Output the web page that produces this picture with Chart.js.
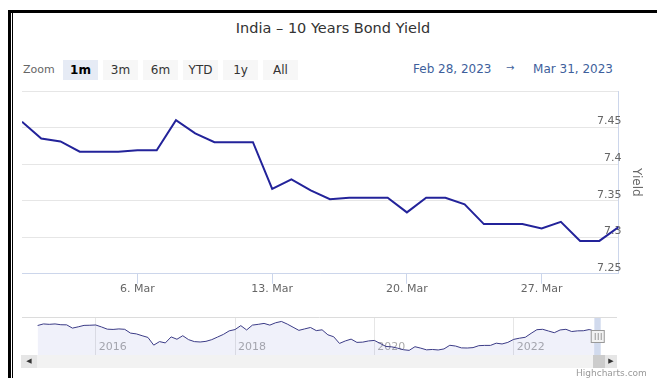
<!DOCTYPE html>
<html>
<head>
<meta charset="utf-8">
<script src="https://cdn.jsdelivr.net/npm/chart.js@4"></script>
<style>
  body { margin: 0; width: 657px; height: 378px; background: #fff; overflow: hidden;
         font-family: "DejaVu Sans", sans-serif; position: relative; }
  .abs { position: absolute; }
  .btn { position: absolute; top: 60px; width: 35px; height: 20px; line-height: 20px; text-align: center;
         background: #f7f7f7; color: #333; font-size: 12px; }
  .btn.sel { background: #e6ebf5; color: #000; font-weight: bold; }
</style>
</head>
<body>
<!-- frame -->
<div class="abs" style="left:8px;top:10px;width:649px;height:3px;background:#000"></div>
<div class="abs" style="left:8px;top:10px;width:3px;height:368px;background:#000"></div>
<div class="abs" style="left:12px;top:13px;width:1px;height:365px;background:#000"></div>

<div class="abs" style="left:0;top:20px;width:666px;text-align:center;font-size:14.5px;color:#333">India – 10 Years Bond Yield</div>

<div class="abs" style="left:23px;top:63px;font-size:11px;color:#666">Zoom</div>
<div class="btn sel" style="left:63px">1m</div>
<div class="btn" style="left:103px">3m</div>
<div class="btn" style="left:143px">6m</div>
<div class="btn" style="left:183px">YTD</div>
<div class="btn" style="left:223px">1y</div>
<div class="btn" style="left:263px">All</div>

<div class="abs" style="left:413px;top:62px;font-size:12px;color:#3e5f9c">Feb 28, 2023</div>
<div class="abs" style="left:506px;top:62px;font-size:10px;color:#3e5f9c">→</div>
<div class="abs" style="right:44px;top:62px;font-size:12px;color:#3e5f9c">Mar 31, 2023</div>

<canvas id="main" class="abs" style="left:0;top:0" width="657" height="300"></canvas>
<canvas id="nav" class="abs" style="left:0;top:310px" width="657" height="46"></canvas>

<!-- scrollbar -->
<div class="abs" style="left:21px;top:355px;width:596px;height:13px;background:#f2f2f2"></div>
<div class="abs" style="left:21px;top:355px;width:16px;height:13px;background:#e6e6e6;font-size:7px;line-height:13px;text-align:center;color:#333">◀</div>
<div class="abs" style="left:593px;top:355px;width:12px;height:13px;background:#cccccc"></div>
<div class="abs" style="left:605px;top:355px;width:12px;height:13px;background:#e6e6e6;font-size:7px;line-height:13px;text-align:center;color:#333">▶</div>
<div class="abs" style="left:576px;top:368px;font-size:9px;color:#999">Highcharts.com</div>

<script>
// daily yields, Feb 28 .. Mar 31 2023
const dayLabels = ['Feb 28', 'Mar 1', 'Mar 2', 'Mar 3', 'Mar 4', 'Mar 5', 'Mar 6', 'Mar 7', 'Mar 8', 'Mar 9',
  'Mar 10', 'Mar 11', 'Mar 12', 'Mar 13', 'Mar 14', 'Mar 15', 'Mar 16', 'Mar 17', 'Mar 18', 'Mar 19',
  'Mar 20', 'Mar 21', 'Mar 22', 'Mar 23', 'Mar 24', 'Mar 25', 'Mar 26', 'Mar 27', 'Mar 28', 'Mar 29',
  'Mar 30', 'Mar 31'];
const yields = [7.458, 7.435, 7.431, 7.417, 7.417, 7.417, 7.419, 7.419, 7.460, 7.442,
  7.430, 7.430, 7.430, 7.366, 7.379, 7.364, 7.352, 7.354, 7.354, 7.354,
  7.334, 7.354, 7.354, 7.345, 7.318, 7.318, 7.318, 7.312, 7.321, 7.295,
  7.295, 7.314];
const xTicks = [6, 13, 20, 27];
const xTickLabels = ['6. Mar', '13. Mar', '20. Mar', '27. Mar'];
const yTicks = [7.25, 7.3, 7.35, 7.4, 7.45, 7.5];

// navigator: monthly, Mar 2015 .. Mar 2023
const navYields = [
  7.74, 7.86, 7.83, 7.86, 7.80, 7.79, 7.54, 7.64, 7.75, 7.76,
  7.78, 7.63, 7.46, 7.44, 7.48, 7.45, 7.16, 7.10, 6.96, 6.83, 6.24, 6.51,
  6.41, 6.87, 6.69, 6.96, 6.66, 6.51, 6.48, 6.53, 6.66, 6.86, 7.06, 7.33,
  7.43, 7.73, 7.40, 7.77, 7.83, 7.90, 7.77, 7.95, 8.05, 7.85, 7.61, 7.37,
  7.48, 7.59, 7.35, 7.41, 7.03, 6.88, 6.37, 6.56, 6.70, 6.45, 6.47, 6.56,
  6.60, 6.37, 6.14, 6.11, 6.01, 5.89, 5.84, 6.12, 6.01, 5.88, 5.91, 5.87,
  5.95, 6.23, 6.17, 6.03, 6.02, 6.05, 6.20, 6.22, 6.22, 6.39, 6.33, 6.45,
  6.68, 6.77, 6.84, 7.14, 7.42, 7.45, 7.32, 7.19, 7.40, 7.45, 7.28, 7.33,
  7.34, 7.43, 7.31];
const yearTicks = [10, 34, 58, 82];
const yearLabels = ['2016', '2018', '2020', '2022'];
const selRange = [95.9, 97];

Chart.defaults.font.family = '"DejaVu Sans", sans-serif';
Chart.defaults.animation = false;

new Chart(document.getElementById('main'), {
  type: 'line',
  data: {
    datasets: [{
      data: yields.map((v, i) => ({ x: i, y: v })),
      borderColor: '#23239a',
      borderWidth: 2,
      pointRadius: 0,
      tension: 0
    }]
  },
  options: {
    responsive: false,
    devicePixelRatio: 1,
    layout: { padding: { top: 91, left: 22, right: 6, bottom: 5 } },
    plugins: { legend: { display: false }, tooltip: { enabled: false } },
    scales: {
      x: {
        type: 'linear', min: 0, max: dayLabels.length - 1,
        afterBuildTicks: s => { s.ticks = xTicks.map(v => ({ value: v })); },
        grid: { drawOnChartArea: false, drawTicks: true, tickLength: 10, color: '#ccd6eb' },
        border: { color: '#ccd6eb' },
        ticks: {
          padding: -1, color: '#666', font: { size: 11 }, maxRotation: 0,
          callback: v => xTickLabels[xTicks.indexOf(v)]
        }
      },
      y: {
        position: 'right', min: 7.25, max: 7.5,
        afterBuildTicks: s => { s.ticks = yTicks.map(v => ({ value: v })); },
        grid: { color: '#e6e6e6', drawTicks: false },
        border: { color: '#ccd6eb' },
        ticks: {
          mirror: true, padding: 3, labelOffset: -6, color: '#666', font: { size: 11 },
          callback: v => (v === 7.5 ? '' : String(Math.round(v * 100) / 100))
        },
        title: { display: true, text: 'Yield', color: '#666', font: { size: 12 }, padding: { top: 8, bottom: 4 } }
      }
    }
  }
});

const navMask = {
  id: 'navMask',
  afterDatasetsDraw(chart) {
    const { ctx, chartArea: a, scales: { x } } = chart;
    const x0 = x.getPixelForValue(selRange[0]);
    const x1 = x.getPixelForValue(selRange[1]);
    ctx.save();
    ctx.fillStyle = 'rgba(102,133,194,0.3)';
    ctx.fillRect(x0, a.top, x1 - x0, a.bottom - a.top);
    // handle
    const hx = x1 - 3, hy = a.top + 13;
    ctx.fillStyle = '#f2f2f2';
    ctx.strokeStyle = '#999';
    ctx.lineWidth = 1;
    ctx.fillRect(hx - 7, hy, 14, 12);
    ctx.strokeRect(hx - 6.5, hy + 0.5, 13, 12);
    ctx.beginPath();
    ctx.moveTo(hx - 2.5, hy + 3); ctx.lineTo(hx - 2.5, hy + 10);
    ctx.moveTo(hx + 0.5, hy + 3); ctx.lineTo(hx + 0.5, hy + 10);
    ctx.moveTo(hx + 3.5, hy + 3); ctx.lineTo(hx + 3.5, hy + 10);
    ctx.stroke();
    // top outline
    ctx.strokeStyle = '#dcdcdc';
    ctx.beginPath();
    ctx.moveTo(a.left, a.top + 0.5); ctx.lineTo(a.right, a.top + 0.5);
    ctx.stroke();
    ctx.restore();
  }
};

new Chart(document.getElementById('nav'), {
  type: 'line',
  data: {
    datasets: [{
      data: navYields.map((v, i) => ({ x: i, y: v })),
      borderColor: '#3b3b86',
      borderWidth: 1,
      backgroundColor: 'rgba(110,120,210,0.1)',
      fill: 'start',
      pointRadius: 0,
      tension: 0
    }]
  },
  options: {
    responsive: false,
    devicePixelRatio: 1,
    layout: { padding: { top: 7, left: 22, right: 40, bottom: 0 } },
    plugins: { legend: { display: false }, tooltip: { enabled: false } },
    scales: {
      x: {
        type: 'linear', min: -2.69, max: 99.8,
        afterBuildTicks: s => { s.ticks = yearTicks.map(v => ({ value: v })); },
        grid: { color: '#e6e6e6', drawTicks: false },
        border: { display: false },
        ticks: {
          align: 'start', labelOffset: 3, padding: -15, color: '#aaa', font: { size: 11 }, maxRotation: 0,
          callback: v => yearLabels[yearTicks.indexOf(v)]
        }
      },
      y: { display: false, min: 5.41, max: 8.39 }
    }
  },
  plugins: [navMask]
});
</script>
</body>
</html>
